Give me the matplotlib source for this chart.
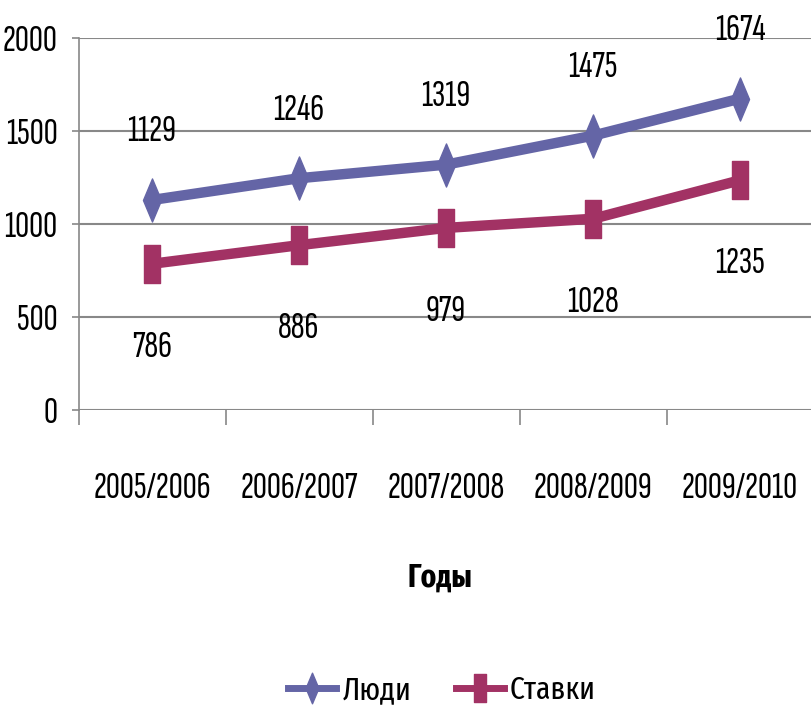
import matplotlib
matplotlib.use("Agg")
import matplotlib.pyplot as plt
from matplotlib.path import Path
from matplotlib.lines import Line2D

# very narrow face for the numbers, a condensed face with plain Cyrillic for words
num_font = ['Sofia Sans Extra Condensed', 'Fira Sans Extra Condensed', 'DejaVu Sans']
word_font = ['Fira Sans Extra Condensed', 'PT Sans Narrow', 'DejaVu Sans']
plt.rcParams['font.family'] = num_font

years = ['2005/2006', '2006/2007', '2007/2008', '2008/2009', '2009/2010']
people = [1129, 1246, 1319, 1475, 1674]
rates = [786, 886, 979, 1028, 1235]
y_ticks = [0, 500, 1000, 1500, 2000]

c_people = '#6465a6'
c_rates = '#a23264'
grid_c = '#888888'
fs = 28

# narrow markers, like the squeezed original
diamond = Path([(0, 1), (0.42, 0), (0, -1), (-0.42, 0), (0, 1)],
               [Path.MOVETO, Path.LINETO, Path.LINETO, Path.LINETO, Path.CLOSEPOLY])
square = Path([(-0.45, 1), (0.45, 1), (0.45, -1), (-0.45, -1), (-0.45, 1)],
              [Path.MOVETO, Path.LINETO, Path.LINETO, Path.LINETO, Path.CLOSEPOLY])

fig = plt.figure(figsize=(8.11, 7.13), dpi=100)
ax = fig.add_axes([0.0968, 0.425, 0.9063, 0.5217])

x = list(range(len(years)))
ax.plot(x, people, color=c_people, lw=7.5, marker=diamond, ms=31, mec=c_people, mfc=c_people,
        solid_capstyle='butt', zorder=3)
ax.plot(x, rates, color=c_rates, lw=7.5, marker=square, ms=27, mec=c_rates, mfc=c_rates,
        solid_capstyle='butt', zorder=3)

for i in x:
    ax.annotate(str(people[i]), (i, people[i]), xytext=(0, 49), textcoords='offset points',
                ha='center', va='center', fontsize=fs)
    ax.annotate(str(rates[i]), (i, rates[i]), xytext=(0, -60), textcoords='offset points',
                ha='center', va='center', fontsize=fs)

ax.set_xlim(-0.5, len(years) - 0.5)
ax.set_ylim(0, 2000)
ax.set_yticks(y_ticks)
ax.set_yticklabels([str(v) for v in y_ticks], fontsize=fs)
ax.set_xticks(x)
ax.set_xticklabels(years, fontsize=fs)
ax.set_xticks([i - 0.5 for i in range(len(years) + 1)], minor=True)
ax.tick_params(axis='x', which='major', length=0, pad=45)
ax.tick_params(axis='x', which='minor', length=11, color=grid_c, width=1.2)
ax.tick_params(axis='y', length=5, color=grid_c, width=1.2, pad=10)

ax.grid(axis='y', color=grid_c, lw=1.5)
ax.set_axisbelow(True)
for s in ['top', 'right', 'bottom']:
    ax.spines[s].set_visible(False)
ax.spines['left'].set_color(grid_c)
ax.spines['left'].set_linewidth(1.2)

fig.text(0.543, 0.189, 'Годы', ha='center', va='center', fontsize=23, fontweight='bold',
         family=word_font)

handles = [Line2D([], [], color=c_people, lw=5, marker=diamond, ms=22, mfc=c_people, mec=c_people),
           Line2D([], [], color=c_rates, lw=5, marker=square, ms=20, mfc=c_rates, mec=c_rates)]
fig.legend(handles, ['Люди', 'Ставки'], loc='center', bbox_to_anchor=(0.545, 0.032),
           ncol=2, frameon=False, prop={'family': word_font, 'size': 23},
           handlelength=1.5, handletextpad=0.2, columnspacing=1.4)

fig.savefig('out.png', dpi=100)
